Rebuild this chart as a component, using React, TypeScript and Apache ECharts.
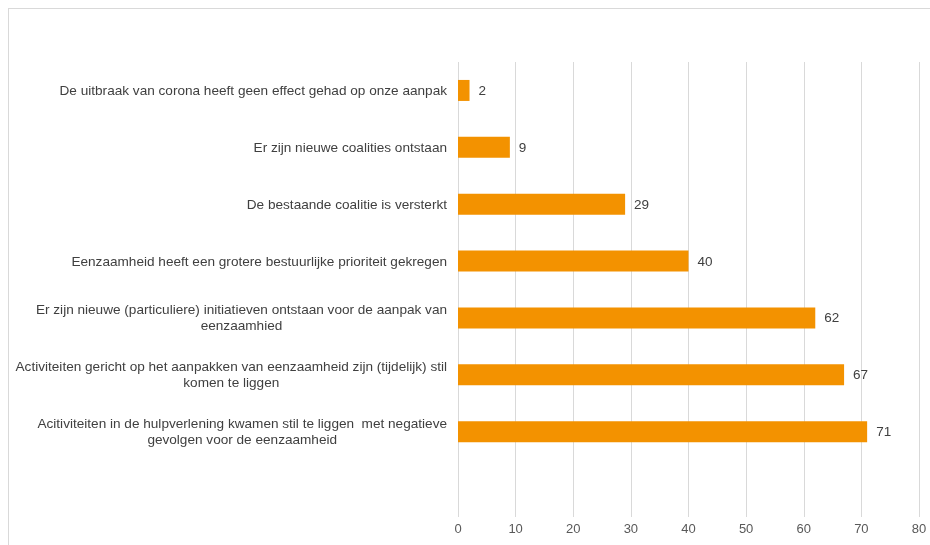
import React, { useEffect, useRef } from "react";
import * as echarts from "echarts";

const categories: string[] = [
  "De uitbraak van corona heeft geen effect gehad op onze aanpak",
  "Er zijn nieuwe coalities ontstaan",
  "De bestaande coalitie is versterkt",
  "Eenzaamheid heeft een grotere bestuurlijke prioriteit gekregen",
  "Er zijn nieuwe (particuliere) initiatieven ontstaan voor de aanpak van\neenzaamhied",
  "Activiteiten gericht op het aanpakken van eenzaamheid zijn (tijdelijk) stil\nkomen te liggen",
  "Acitiviteiten in de hulpverlening kwamen stil te liggen  met negatieve\ngevolgen voor de eenzaamheid",
  "",
];
const values: (number | null)[] = [2, 9, 29, 40, 62, 67, 71, null];
const xTicks = { min: 0, max: 80, interval: 10 };

export default function App() {
  const ref = useRef<HTMLDivElement>(null);
  useEffect(() => {
    if (!ref.current) return;
    const chart = echarts.init(ref.current, undefined, { renderer: "svg" });
    chart.setOption({
      animation: false,
      textStyle: { fontFamily: "'Liberation Sans', Arial, sans-serif" },
      grid: { left: 449, right: 20, top: 53, bottom: 37, containLabel: false },
      xAxis: {
        type: "value",
        min: xTicks.min,
        max: xTicks.max,
        interval: xTicks.interval,
        axisLine: { show: false },
        axisTick: { show: false },
        splitLine: { lineStyle: { color: "#d9d9d9", width: 1 } },
        axisLabel: { color: "#595959", fontSize: 13, margin: 5 },
      },
      yAxis: {
        type: "category",
        inverse: true,
        data: categories,
        axisLine: { show: false },
        axisTick: { show: false },
        splitLine: { show: false },
        axisLabel: {
          color: "#404040",
          fontSize: 13.6,
          margin: 11,
          lineHeight: 16,
          formatter: (v: string) =>
            v
              .split("\n")
              .map((l) => "{c|" + l + "}")
              .join("\n"),
          rich: { c: { align: "center", color: "#404040", fontSize: 13.6, lineHeight: 16 } },
        },
      },
      series: [
        {
          type: "bar",
          data: values,
          barWidth: 21,
          itemStyle: { color: "#F39200" },
          label: {
            show: true,
            position: "right",
            distance: 9,
            color: "#404040",
            fontSize: 13.5,
          },
        },
      ],
    });
    return () => chart.dispose();
  }, []);
  return (
    <div
      style={{
        position: "fixed",
        left: 8,
        top: 8,
        width: 932,
        height: 547,
        boxSizing: "border-box",
        border: "1px solid #d9d9d9",
        overflow: "hidden",
      }}
    >
      <div ref={ref} style={{ width: 930, height: 545 }} />
    </div>
  );
}
